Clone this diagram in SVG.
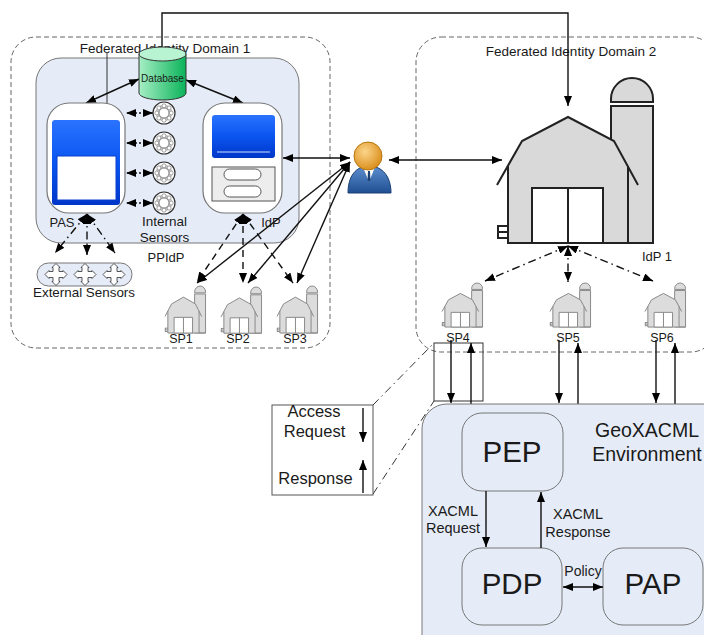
<svg xmlns="http://www.w3.org/2000/svg" xmlns:xlink="http://www.w3.org/1999/xlink" width="704" height="635" viewBox="0 0 704 635">
  <style>
    text { font-family: "Liberation Sans", Arial, sans-serif; fill: #1a1a1a; }
    .domain { fill: none; stroke: #666; stroke-width: 1; stroke-dasharray: 5 3; }
    .panel { fill: #e6ecf7; stroke: #777; stroke-width: 1; }
    .node { fill: #ffffff; stroke: #777; stroke-width: 1.2; }
    .box { fill: #e6ecf7; stroke: #777; stroke-width: 1; }
    .link { fill: none; stroke: #111; stroke-width: 1.4; }
    .dotted { stroke-dasharray: 2 2; }
    .dashed { stroke-dasharray: 7 5; }
    .dashdot { stroke-dasharray: 8 4 1.5 4; }
    .thin { fill: none; stroke: #333; stroke-width: 1; }
  </style>
  <defs>
    <marker id="ah" viewBox="0 0 10 8" refX="10" refY="4" markerWidth="10" markerHeight="8" markerUnits="userSpaceOnUse" orient="auto-start-reverse">
      <path d="M0,0 L10,4 L0,8 Z" fill="#000"/>
    </marker>
    <linearGradient id="dbGrad" x1="0" y1="0" x2="1" y2="0">
      <stop offset="0" stop-color="#a6eec4"/>
      <stop offset="1" stop-color="#0bb35a"/>
    </linearGradient>
    <linearGradient id="screenGrad" x1="0" y1="0" x2="0" y2="1">
      <stop offset="0" stop-color="#2a73ff"/>
      <stop offset="0.5" stop-color="#0a55f0"/>
      <stop offset="1" stop-color="#0036c8"/>
    </linearGradient>
    <radialGradient id="headGrad" cx="0.4" cy="0.35" r="0.7">
      <stop offset="0" stop-color="#fbd58a"/>
      <stop offset="1" stop-color="#d98a16"/>
    </radialGradient>
    <linearGradient id="bodyGrad" x1="0" y1="0" x2="0" y2="1">
      <stop offset="0" stop-color="#5d8fd0"/>
      <stop offset="1" stop-color="#1f4f92"/>
    </linearGradient>
    <!-- barn with silo, local box 0..156 x 0..165 -->
    <g id="barn">
      <path d="M114,24 L114,21 A21,21 0 0 1 156,21 L156,24 Z" vector-effect="non-scaling-stroke"/>
      <rect x="114" y="28" width="42" height="137" vector-effect="non-scaling-stroke"/>
      <path d="M11,88 L25,63 L71,39 L117,63 L131,88 L131,165 L11,165 Z" stroke="none"/>
      <polyline points="0,107 25,63 71,39 117,63 141,107" fill="none" vector-effect="non-scaling-stroke"/>
      <path d="M11,88 L11,165 L156,165 M131,88 L131,165" fill="none" vector-effect="non-scaling-stroke"/>
      <rect x="35" y="110" width="71" height="55" fill="#fff" vector-effect="non-scaling-stroke"/>
      <line x1="71" y1="110" x2="71" y2="165" vector-effect="non-scaling-stroke"/>
      <path d="M0,148 L11,148 M0,154 L11,154 M0,160 L11,160 M1,148 L1,160" fill="none" vector-effect="non-scaling-stroke"/>
    </g>
    <g id="sensor">
      <circle r="11" fill="#fff" stroke="#333" stroke-width="1.2"/>
      <circle r="8.5" fill="#d0d0d0" stroke="none"/>
      <circle r="5" fill="#fff" stroke="#777" stroke-width="0.8"/>
      <g fill="#fff" stroke="#666" stroke-width="0.6">
        <circle cx="0" cy="-7.2" r="2"/><circle cx="5.1" cy="-5.1" r="2"/>
        <circle cx="7.2" cy="0" r="2"/><circle cx="5.1" cy="5.1" r="2"/>
        <circle cx="0" cy="7.2" r="2"/><circle cx="-5.1" cy="5.1" r="2"/>
        <circle cx="-7.2" cy="0" r="2"/><circle cx="-5.1" cy="-5.1" r="2"/>
      </g>
    </g>
    <path id="cross" d="M0,-11 L4,-7 L3,-7 L3,-3 L7,-3 L7,-4 L11,0 L7,4 L7,3 L3,3 L3,7 L4,7 L0,11 L-4,7 L-3,7 L-3,3 L-7,3 L-7,4 L-11,0 L-7,-4 L-7,-3 L-3,-3 L-3,-7 L-4,-7 Z" fill="#fff" stroke="#444" stroke-width="0.9"/>
  </defs>

  <rect width="704" height="635" fill="#fff"/>

  <!-- domain frames -->
  <g id="domain1">
    <rect class="domain" x="11" y="37" width="319" height="311" rx="25"/>
    <text x="165" y="53" font-size="13.5" text-anchor="middle">Federated Identity Domain 1</text>
  </g>
  <g id="domain2">
    <rect class="domain" x="416" y="37" width="300" height="315" rx="25"/>
    <text x="571" y="56" font-size="13.5" text-anchor="middle">Federated Identity Domain 2</text>
  </g>

  <!-- PPIdP panel -->
  <g id="ppidp">
    <rect class="panel" x="36" y="58" width="263" height="185" rx="25"/>
    <text x="166" y="262" font-size="13" text-anchor="middle">PPIdP</text>
  </g>

  <!-- connectors -->
  <g id="connectors">
    <line x1="107" y1="53" x2="107" y2="103" class="thin"/>
    <polyline class="link" points="162,62 162,13 568,13 568,106" marker-start="url(#ah)" marker-end="url(#ah)"/>
    <line class="link" x1="139" y1="79" x2="86" y2="103" marker-start="url(#ah)" marker-end="url(#ah)"/>
    <line class="link" x1="186" y1="80" x2="243" y2="103" marker-start="url(#ah)" marker-end="url(#ah)"/>
    <!-- internal sensors -->
    <line class="link dotted" x1="153" y1="113" x2="126" y2="113" marker-start="url(#ah)" marker-end="url(#ah)"/>
    <line class="link dotted" x1="153" y1="143" x2="126" y2="143" marker-start="url(#ah)" marker-end="url(#ah)"/>
    <line class="link dotted" x1="153" y1="173" x2="126" y2="173" marker-start="url(#ah)" marker-end="url(#ah)"/>
    <line class="link dotted" x1="153" y1="203" x2="126" y2="203" marker-start="url(#ah)" marker-end="url(#ah)"/>
    <!-- PAS to external sensors -->
    <line class="link dashdot" x1="87" y1="214" x2="55" y2="253" marker-start="url(#ah)" marker-end="url(#ah)"/>
    <line class="link dashdot" x1="87" y1="214" x2="87" y2="255" marker-start="url(#ah)" marker-end="url(#ah)"/>
    <line class="link dashdot" x1="87" y1="214" x2="115" y2="253" marker-start="url(#ah)" marker-end="url(#ah)"/>
    <!-- IdP to SP1..SP3 -->
    <line class="link dashed" x1="243" y1="214" x2="197" y2="282" marker-start="url(#ah)" marker-end="url(#ah)"/>
    <line class="link dashed" x1="243" y1="214" x2="243" y2="283" marker-start="url(#ah)" marker-end="url(#ah)"/>
    <line class="link dashed" x1="243" y1="214" x2="293" y2="283" marker-start="url(#ah)" marker-end="url(#ah)"/>
    <!-- user links -->
    <line class="link" x1="350" y1="158" x2="283" y2="158" marker-start="url(#ah)" marker-end="url(#ah)"/>
    <line class="link" x1="350" y1="162" x2="197" y2="283" marker-start="url(#ah)" marker-end="url(#ah)"/>
    <line class="link" x1="350" y1="162" x2="248" y2="283" marker-start="url(#ah)" marker-end="url(#ah)"/>
    <line class="link" x1="350" y1="162" x2="297" y2="283" marker-start="url(#ah)" marker-end="url(#ah)"/>
    <line class="link" x1="389" y1="160" x2="502" y2="160" marker-start="url(#ah)" marker-end="url(#ah)"/>
    <!-- IdP 1 to SP4..SP6 -->
    <line class="link dashdot" x1="568" y1="246" x2="485" y2="281" marker-start="url(#ah)" marker-end="url(#ah)"/>
    <line class="link dashdot" x1="568" y1="246" x2="568" y2="282" marker-start="url(#ah)" marker-end="url(#ah)"/>
    <line class="link dashdot" x1="568" y1="246" x2="653" y2="281" marker-start="url(#ah)" marker-end="url(#ah)"/>
    <!-- SP to GeoXACML environment -->
    <rect x="434" y="343" width="49" height="58" class="thin"/>
    <line class="link" x1="451" y1="340" x2="451" y2="403" marker-end="url(#ah)"/>
    <line class="link" x1="471" y1="404" x2="471" y2="343" marker-end="url(#ah)"/>
    <line class="link" x1="559" y1="340" x2="559" y2="403" marker-end="url(#ah)"/>
    <line class="link" x1="578" y1="404" x2="578" y2="343" marker-end="url(#ah)"/>
    <line class="link" x1="656" y1="340" x2="656" y2="403" marker-end="url(#ah)"/>
    <line class="link" x1="675" y1="404" x2="675" y2="343" marker-end="url(#ah)"/>
    <line class="thin dashdot" x1="373" y1="405" x2="434" y2="343"/>
    <line class="thin dashdot" x1="373" y1="494" x2="434" y2="401"/>
  </g>

  <!-- database -->
  <g id="database">
    <path d="M139,54 L139,93 A23.5,7 0 0 0 186,93 L186,54 Z" fill="url(#dbGrad)" stroke="#333" stroke-width="1"/>
    <ellipse cx="162.5" cy="54" rx="23.5" ry="7" fill="#b8f3d2" stroke="#333" stroke-width="1"/>
    <text x="162.5" y="82" font-size="10" text-anchor="middle">Database</text>
  </g>

  <!-- PAS -->
  <g id="pas">
    <rect class="node" x="47" y="103" width="78" height="110" rx="22"/>
    <rect x="52" y="120" width="68" height="85" rx="3" fill="url(#screenGrad)"/>
    <rect x="57" y="156" width="59" height="44" fill="#fff" stroke="#0a3fd0" stroke-width="1"/>
    <text x="62" y="227" font-size="13" text-anchor="middle">PAS</text>
  </g>

  <!-- internal sensors -->
  <g id="internal-sensors">
    <use xlink:href="#sensor" href="#sensor" x="164" y="113"/>
    <use xlink:href="#sensor" href="#sensor" x="164" y="143"/>
    <use xlink:href="#sensor" href="#sensor" x="164" y="173"/>
    <use xlink:href="#sensor" href="#sensor" x="164" y="203"/>
    <text x="164.5" y="226" font-size="13.5" text-anchor="middle">Internal</text>
    <text x="164.5" y="242" font-size="13.5" text-anchor="middle">Sensors</text>
  </g>

  <!-- external sensors -->
  <g id="external-sensors">
    <rect x="37" y="263" width="95" height="23" rx="11.5" fill="#e6ecf7" stroke="#777" stroke-width="1"/>
    <use xlink:href="#cross" href="#cross" x="56" y="274.5"/>
    <use xlink:href="#cross" href="#cross" x="85" y="274.5"/>
    <use xlink:href="#cross" href="#cross" x="114" y="274.5"/>
    <text x="84" y="297" font-size="13.4" text-anchor="middle">External Sensors</text>
  </g>

  <!-- IdP -->
  <g id="idp">
    <rect class="node" x="203" y="103" width="79" height="110" rx="22"/>
    <rect x="212" y="115" width="63" height="43" rx="3" fill="url(#screenGrad)"/>
    <line x1="217" y1="152" x2="270" y2="152" stroke="#cfdcff" stroke-width="1.2"/>
    <rect x="212" y="167" width="63" height="34" fill="#ededed" stroke="#555" stroke-width="1"/>
    <rect x="224" y="169" width="37" height="11" rx="5.5" fill="#fff" stroke="#555" stroke-width="1"/>
    <rect x="224" y="186" width="37" height="11" rx="5.5" fill="#fff" stroke="#555" stroke-width="1"/>
    <text x="271" y="227" font-size="13" text-anchor="middle">IdP</text>
  </g>

  <!-- user -->
  <g id="user">
    <path d="M348,193 C348,176 356,166 369,166 C382,166 391,176 391,193 Z" fill="url(#bodyGrad)" stroke="#1a3f73" stroke-width="1"/>
    <path d="M363,167 L369,182 L375,167 Z" fill="#fff"/>
    <path d="M368,171 L370,171 L370.5,180 L369,182 L367.5,180 Z" fill="#1a3f73"/>
    <circle cx="368" cy="156" r="14" fill="url(#headGrad)" stroke="#b8760e" stroke-width="1"/>
  </g>

  <!-- IdP 1 -->
  <g id="idp1">
    <use xlink:href="#barn" href="#barn" transform="translate(497,78)" fill="#d9d9d9" stroke="#222" stroke-width="2"/>
    <text x="657" y="261" font-size="13" text-anchor="middle">IdP 1</text>
  </g>

  <!-- service providers -->
  <g id="sp1">
    <use xlink:href="#barn" href="#barn" transform="translate(165,286) scale(0.26,0.285)" fill="#dcdcdc" stroke="#8a8a8a" stroke-width="1"/>
    <text x="181" y="343" font-size="12.5" text-anchor="middle">SP1</text>
  </g>
  <g id="sp2">
    <use xlink:href="#barn" href="#barn" transform="translate(221,287) scale(0.26,0.28)" fill="#dcdcdc" stroke="#8a8a8a" stroke-width="1"/>
    <text x="238" y="343" font-size="12.5" text-anchor="middle">SP2</text>
  </g>
  <g id="sp3">
    <use xlink:href="#barn" href="#barn" transform="translate(277,286) scale(0.26,0.285)" fill="#dcdcdc" stroke="#8a8a8a" stroke-width="1"/>
    <text x="295" y="343" font-size="12.5" text-anchor="middle">SP3</text>
  </g>
  <g id="sp4">
    <use xlink:href="#barn" href="#barn" transform="translate(442,283) scale(0.26,0.267)" fill="#dcdcdc" stroke="#8a8a8a" stroke-width="1"/>
    <text x="458" y="342" font-size="12.5" text-anchor="middle">SP4</text>
  </g>
  <g id="sp5">
    <use xlink:href="#barn" href="#barn" transform="translate(550,283) scale(0.26,0.267)" fill="#dcdcdc" stroke="#8a8a8a" stroke-width="1"/>
    <text x="568" y="342" font-size="12.5" text-anchor="middle">SP5</text>
  </g>
  <g id="sp6">
    <use xlink:href="#barn" href="#barn" transform="translate(645,283) scale(0.26,0.267)" fill="#dcdcdc" stroke="#8a8a8a" stroke-width="1"/>
    <text x="662" y="342" font-size="12.5" text-anchor="middle">SP6</text>
  </g>

  <!-- access request / response legend -->
  <g id="access-legend">
    <rect x="272" y="405" width="101" height="90" fill="#fff" stroke="#555" stroke-width="1"/>
    <text x="314" y="417" font-size="16.5" text-anchor="middle">Access</text>
    <text x="314.5" y="437" font-size="16.5" text-anchor="middle">Request</text>
    <text x="315.5" y="484" font-size="16.5" text-anchor="middle">Response</text>
    <line class="link" x1="363" y1="408" x2="363" y2="442" marker-end="url(#ah)"/>
    <line class="link" x1="363" y1="493" x2="363" y2="460" marker-end="url(#ah)"/>
  </g>

  <!-- GeoXACML environment -->
  <g id="geoxacml">
    <rect class="panel" x="422" y="404" width="320" height="260" rx="25"/>
    <text x="647" y="437" font-size="19.5" text-anchor="middle">GeoXACML</text>
    <text x="647" y="461" font-size="19.5" text-anchor="middle">Environment</text>
  </g>

  <g id="pep">
    <rect class="box" x="462" y="413" width="101" height="78" rx="20"/>
    <text x="512" y="462" font-size="29.5" text-anchor="middle">PEP</text>
  </g>
  <g id="pdp">
    <rect class="box" x="462" y="548" width="100" height="77" rx="20"/>
    <text x="512" y="594" font-size="29.5" text-anchor="middle">PDP</text>
  </g>
  <g id="pap">
    <rect class="box" x="603" y="548" width="100" height="77" rx="20"/>
    <text x="653" y="594" font-size="29.5" text-anchor="middle">PAP</text>
  </g>

  <g id="xacml-links">
    <line class="link" x1="486" y1="491" x2="486" y2="547" marker-end="url(#ah)"/>
    <line class="link" x1="541" y1="548" x2="541" y2="492" marker-end="url(#ah)"/>
    <line class="link" x1="563" y1="587" x2="603" y2="587" marker-start="url(#ah)" marker-end="url(#ah)"/>
    <text x="453" y="516" font-size="14.5" text-anchor="middle">XACML</text>
    <text x="453" y="533" font-size="14.5" text-anchor="middle">Request</text>
    <text x="578" y="519" font-size="14.5" text-anchor="middle">XACML</text>
    <text x="578" y="537" font-size="14.5" text-anchor="middle">Response</text>
    <text x="583" y="576" font-size="14" text-anchor="middle">Policy</text>
  </g>
</svg>
